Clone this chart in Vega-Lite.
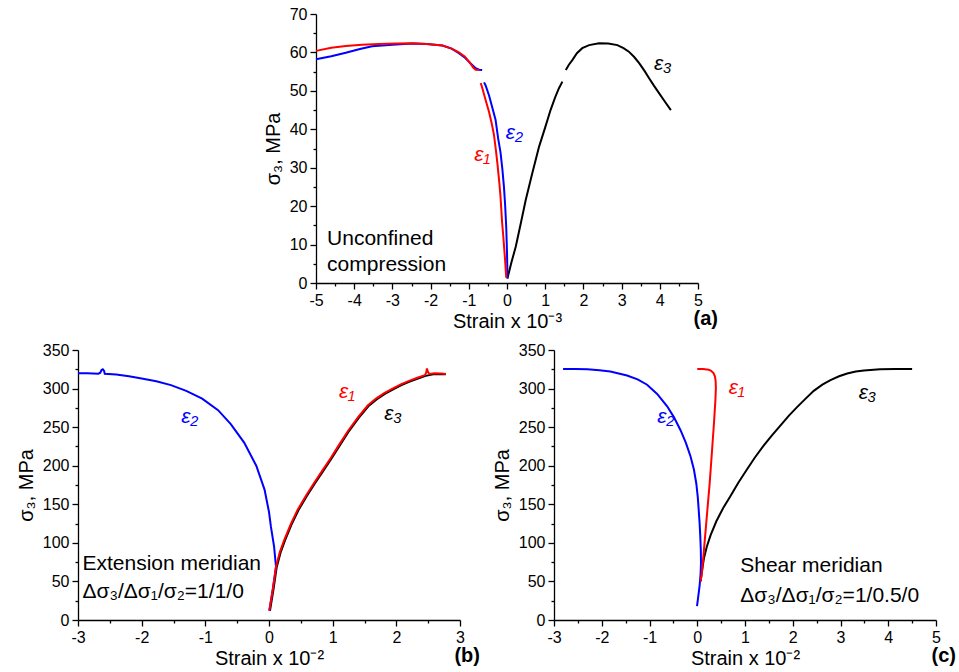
{
  "$schema": "https://vega.github.io/schema/vega-lite/v6.json",
  "background": "white",
  "padding": {"left": 16, "top": 6, "right": 2, "bottom": 2},
  "config": {
    "font": "Liberation Sans",
    "view": {"stroke": null},
    "axis": {
      "grid": false,
      "domainColor": "black",
      "domainWidth": 1.3,
      "tickColor": "black",
      "tickWidth": 1.3,
      "tickSize": 6,
      "labelColor": "black",
      "labelFont": "Liberation Sans",
      "labelFontSize": 16,
      "labelPadding": 3,
      "labelFlush": false,
      "labelOverlap": false,
      "titleColor": "black",
      "titleFont": "Liberation Sans",
      "titleFontSize": 20,
      "titleFontWeight": "normal"
    },
    "axisX": {"titlePadding": 3},
    "axisY": {"titlePadding": 6},
    "title": {"font": "Liberation Sans", "fontSize": 20, "fontWeight": "bold", "color": "black"}
  },
  "datasets": {
    "a_curves": [
      {"s": "e3", "g": "k1", "x": 0.01, "y": 1.2}, {"s": "e3", "g": "k1", "x": 0.12, "y": 5.5}, {"s": "e3", "g": "k1", "x": 0.23, "y": 9.5},
      {"s": "e3", "g": "k1", "x": 0.36, "y": 15.5}, {"s": "e3", "g": "k1", "x": 0.49, "y": 21.6}, {"s": "e3", "g": "k1", "x": 0.66, "y": 28.5},
      {"s": "e3", "g": "k1", "x": 0.84, "y": 35.5}, {"s": "e3", "g": "k1", "x": 1.0, "y": 40.5}, {"s": "e3", "g": "k1", "x": 1.14, "y": 45.0},
      {"s": "e3", "g": "k1", "x": 1.26, "y": 48.3}, {"s": "e3", "g": "k1", "x": 1.36, "y": 50.7}, {"s": "e3", "g": "k1", "x": 1.45, "y": 52.4},
      {"s": "e3", "g": "k2", "x": 1.54, "y": 55.4}, {"s": "e3", "g": "k2", "x": 1.62, "y": 56.8}, {"s": "e3", "g": "k2", "x": 1.71, "y": 58.0},
      {"s": "e3", "g": "k2", "x": 1.83, "y": 59.8}, {"s": "e3", "g": "k2", "x": 1.97, "y": 61.1}, {"s": "e3", "g": "k2", "x": 2.15, "y": 61.9},
      {"s": "e3", "g": "k2", "x": 2.41, "y": 62.4}, {"s": "e3", "g": "k2", "x": 2.65, "y": 62.3}, {"s": "e3", "g": "k2", "x": 2.89, "y": 61.9},
      {"s": "e3", "g": "k2", "x": 3.05, "y": 61.1}, {"s": "e3", "g": "k2", "x": 3.19, "y": 60.2}, {"s": "e3", "g": "k2", "x": 3.33, "y": 58.8},
      {"s": "e3", "g": "k2", "x": 3.46, "y": 57.2}, {"s": "e3", "g": "k2", "x": 3.6, "y": 55.2}, {"s": "e3", "g": "k2", "x": 3.72, "y": 53.3},
      {"s": "e3", "g": "k2", "x": 3.85, "y": 51.3}, {"s": "e3", "g": "k2", "x": 3.98, "y": 49.4}, {"s": "e3", "g": "k2", "x": 4.14, "y": 47.1},
      {"s": "e3", "g": "k2", "x": 4.29, "y": 45.0},
      {"s": "e2", "g": "b1", "x": -5.0, "y": 58.2}, {"s": "e2", "g": "b1", "x": -4.6, "y": 59.0}, {"s": "e2", "g": "b1", "x": -4.22, "y": 59.9},
      {"s": "e2", "g": "b1", "x": -3.85, "y": 60.9}, {"s": "e2", "g": "b1", "x": -3.53, "y": 61.6}, {"s": "e2", "g": "b1", "x": -3.0, "y": 62.0},
      {"s": "e2", "g": "b1", "x": -2.48, "y": 62.3}, {"s": "e2", "g": "b1", "x": -2.1, "y": 62.2}, {"s": "e2", "g": "b1", "x": -1.69, "y": 61.8},
      {"s": "e2", "g": "b1", "x": -1.45, "y": 61.0}, {"s": "e2", "g": "b1", "x": -1.26, "y": 59.8}, {"s": "e2", "g": "b1", "x": -1.1, "y": 58.6},
      {"s": "e2", "g": "b1", "x": -0.95, "y": 57.1}, {"s": "e2", "g": "b1", "x": -0.82, "y": 55.9}, {"s": "e2", "g": "b1", "x": -0.73, "y": 55.5},
      {"s": "e2", "g": "b1", "x": -0.65, "y": 55.4},
      {"s": "e2", "g": "b2", "x": -0.6, "y": 52.2}, {"s": "e2", "g": "b2", "x": -0.56, "y": 51.4}, {"s": "e2", "g": "b2", "x": -0.47, "y": 48.8},
      {"s": "e2", "g": "b2", "x": -0.38, "y": 45.5}, {"s": "e2", "g": "b2", "x": -0.3, "y": 42.5}, {"s": "e2", "g": "b2", "x": -0.23, "y": 37.5},
      {"s": "e2", "g": "b2", "x": -0.17, "y": 34.0}, {"s": "e2", "g": "b2", "x": -0.12, "y": 29.5}, {"s": "e2", "g": "b2", "x": -0.08, "y": 25.0},
      {"s": "e2", "g": "b2", "x": -0.05, "y": 20.5}, {"s": "e2", "g": "b2", "x": -0.02, "y": 14.5}, {"s": "e2", "g": "b2", "x": 0.0, "y": 8.0},
      {"s": "e2", "g": "b2", "x": 0.01, "y": 3.0}, {"s": "e2", "g": "b2", "x": 0.01, "y": 1.2},
      {"s": "e1", "g": "r1", "x": -5.0, "y": 60.4}, {"s": "e1", "g": "r1", "x": -4.6, "y": 61.2}, {"s": "e1", "g": "r1", "x": -4.22, "y": 61.7},
      {"s": "e1", "g": "r1", "x": -3.8, "y": 62.0}, {"s": "e1", "g": "r1", "x": -3.35, "y": 62.2}, {"s": "e1", "g": "r1", "x": -2.9, "y": 62.3},
      {"s": "e1", "g": "r1", "x": -2.48, "y": 62.4}, {"s": "e1", "g": "r1", "x": -2.1, "y": 62.2}, {"s": "e1", "g": "r1", "x": -1.69, "y": 61.8},
      {"s": "e1", "g": "r1", "x": -1.45, "y": 61.0}, {"s": "e1", "g": "r1", "x": -1.26, "y": 60.0}, {"s": "e1", "g": "r1", "x": -1.1, "y": 58.9},
      {"s": "e1", "g": "r1", "x": -0.98, "y": 57.4}, {"s": "e1", "g": "r1", "x": -0.88, "y": 56.0}, {"s": "e1", "g": "r1", "x": -0.82, "y": 55.5},
      {"s": "e1", "g": "r1", "x": -0.73, "y": 55.4},
      {"s": "e1", "g": "r2", "x": -0.69, "y": 52.0}, {"s": "e1", "g": "r2", "x": -0.66, "y": 51.2}, {"s": "e1", "g": "r2", "x": -0.56, "y": 47.6},
      {"s": "e1", "g": "r2", "x": -0.47, "y": 44.5}, {"s": "e1", "g": "r2", "x": -0.4, "y": 41.5}, {"s": "e1", "g": "r2", "x": -0.34, "y": 38.5},
      {"s": "e1", "g": "r2", "x": -0.29, "y": 34.5}, {"s": "e1", "g": "r2", "x": -0.25, "y": 31.0}, {"s": "e1", "g": "r2", "x": -0.2, "y": 26.0},
      {"s": "e1", "g": "r2", "x": -0.17, "y": 22.5}, {"s": "e1", "g": "r2", "x": -0.13, "y": 16.0}, {"s": "e1", "g": "r2", "x": -0.1, "y": 12.5},
      {"s": "e1", "g": "r2", "x": -0.05, "y": 6.0}, {"s": "e1", "g": "r2", "x": -0.02, "y": 1.4}
    ],
    "a_labels": [
      {"x": -0.86, "y": 31.8, "t": "ε₁", "s": "e1"},
      {"x": -0.03, "y": 37.4, "t": "ε₂", "s": "e2"},
      {"x": 3.85, "y": 55.4, "t": "ε₃", "s": "e3"}
    ],
    "a_notes": [
      {"x": -4.71, "y": 9.9, "t": "Unconfined"},
      {"x": -4.71, "y": 3.2, "t": "compression"}
    ],
    "b_curves": [
      {"s": "e3", "g": "k", "x": 0.015, "y": 12}, {"s": "e3", "g": "k", "x": 0.07, "y": 39.5}, {"s": "e3", "g": "k", "x": 0.12, "y": 68},
      {"s": "e3", "g": "k", "x": 0.18, "y": 87}, {"s": "e3", "g": "k", "x": 0.25, "y": 103}, {"s": "e3", "g": "k", "x": 0.35, "y": 123},
      {"s": "e3", "g": "k", "x": 0.46, "y": 142}, {"s": "e3", "g": "k", "x": 0.59, "y": 160}, {"s": "e3", "g": "k", "x": 0.72, "y": 177},
      {"s": "e3", "g": "k", "x": 0.85, "y": 193}, {"s": "e3", "g": "k", "x": 0.98, "y": 209}, {"s": "e3", "g": "k", "x": 1.11, "y": 226},
      {"s": "e3", "g": "k", "x": 1.25, "y": 244}, {"s": "e3", "g": "k", "x": 1.41, "y": 262}, {"s": "e3", "g": "k", "x": 1.56, "y": 277},
      {"s": "e3", "g": "k", "x": 1.69, "y": 286}, {"s": "e3", "g": "k", "x": 1.82, "y": 293}, {"s": "e3", "g": "k", "x": 1.95, "y": 299},
      {"s": "e3", "g": "k", "x": 2.08, "y": 304.5}, {"s": "e3", "g": "k", "x": 2.21, "y": 309}, {"s": "e3", "g": "k", "x": 2.34, "y": 313},
      {"s": "e3", "g": "k", "x": 2.46, "y": 316.5}, {"s": "e3", "g": "k", "x": 2.6, "y": 319}, {"s": "e3", "g": "k", "x": 2.78, "y": 318.5},
      {"s": "e2", "g": "b", "x": -3.0, "y": 319.8}, {"s": "e2", "g": "b", "x": -2.85, "y": 319.7}, {"s": "e2", "g": "b", "x": -2.68, "y": 319.3},
      {"s": "e2", "g": "b", "x": -2.65, "y": 320.5}, {"s": "e2", "g": "b", "x": -2.63, "y": 324}, {"s": "e2", "g": "b", "x": -2.61, "y": 325},
      {"s": "e2", "g": "b", "x": -2.59, "y": 323}, {"s": "e2", "g": "b", "x": -2.58, "y": 319.3}, {"s": "e2", "g": "b", "x": -2.4, "y": 318.2},
      {"s": "e2", "g": "b", "x": -2.2, "y": 316}, {"s": "e2", "g": "b", "x": -2.0, "y": 313}, {"s": "e2", "g": "b", "x": -1.77, "y": 309.5},
      {"s": "e2", "g": "b", "x": -1.54, "y": 304.5}, {"s": "e2", "g": "b", "x": -1.3, "y": 297}, {"s": "e2", "g": "b", "x": -1.05, "y": 287},
      {"s": "e2", "g": "b", "x": -0.8, "y": 272}, {"s": "e2", "g": "b", "x": -0.6, "y": 254}, {"s": "e2", "g": "b", "x": -0.39, "y": 230},
      {"s": "e2", "g": "b", "x": -0.2, "y": 200}, {"s": "e2", "g": "b", "x": -0.07, "y": 169}, {"s": "e2", "g": "b", "x": 0.0, "y": 140},
      {"s": "e2", "g": "b", "x": 0.03, "y": 121}, {"s": "e2", "g": "b", "x": 0.08, "y": 95}, {"s": "e2", "g": "b", "x": 0.11, "y": 69},
      {"s": "e2", "g": "b", "x": 0.06, "y": 40}, {"s": "e2", "g": "b", "x": 0.005, "y": 12},
      {"s": "e1", "g": "r", "x": 0.005, "y": 12}, {"s": "e1", "g": "r", "x": 0.06, "y": 40}, {"s": "e1", "g": "r", "x": 0.11, "y": 69},
      {"s": "e1", "g": "r", "x": 0.17, "y": 88}, {"s": "e1", "g": "r", "x": 0.24, "y": 104}, {"s": "e1", "g": "r", "x": 0.34, "y": 124},
      {"s": "e1", "g": "r", "x": 0.45, "y": 143}, {"s": "e1", "g": "r", "x": 0.58, "y": 161}, {"s": "e1", "g": "r", "x": 0.71, "y": 178},
      {"s": "e1", "g": "r", "x": 0.84, "y": 194}, {"s": "e1", "g": "r", "x": 0.97, "y": 210}, {"s": "e1", "g": "r", "x": 1.1, "y": 227},
      {"s": "e1", "g": "r", "x": 1.24, "y": 245}, {"s": "e1", "g": "r", "x": 1.4, "y": 263}, {"s": "e1", "g": "r", "x": 1.55, "y": 278},
      {"s": "e1", "g": "r", "x": 1.68, "y": 287}, {"s": "e1", "g": "r", "x": 1.81, "y": 294}, {"s": "e1", "g": "r", "x": 1.94, "y": 300},
      {"s": "e1", "g": "r", "x": 2.07, "y": 305.5}, {"s": "e1", "g": "r", "x": 2.2, "y": 310}, {"s": "e1", "g": "r", "x": 2.33, "y": 314},
      {"s": "e1", "g": "r", "x": 2.45, "y": 317.5}, {"s": "e1", "g": "r", "x": 2.47, "y": 321}, {"s": "e1", "g": "r", "x": 2.48, "y": 326},
      {"s": "e1", "g": "r", "x": 2.5, "y": 321}, {"s": "e1", "g": "r", "x": 2.52, "y": 319}, {"s": "e1", "g": "r", "x": 2.6, "y": 320},
      {"s": "e1", "g": "r", "x": 2.7, "y": 319.5}, {"s": "e1", "g": "r", "x": 2.78, "y": 319}
    ],
    "b_labels": [
      {"x": -1.38, "y": 256, "t": "ε₂", "s": "e2"},
      {"x": 1.1, "y": 288, "t": "ε₁", "s": "e1"},
      {"x": 1.81, "y": 259, "t": "ε₃", "s": "e3"}
    ],
    "b_notes": [
      {"x": -2.93, "y": 65, "t": "Extension meridian"},
      {"x": -2.93, "y": 28, "t": "Δσ₃/Δσ₁/σ₂=1/1/0"}
    ],
    "c_curves": [
      {"s": "e3", "g": "k", "x": 0.07, "y": 50}, {"s": "e3", "g": "k", "x": 0.1, "y": 64}, {"s": "e3", "g": "k", "x": 0.14, "y": 80},
      {"s": "e3", "g": "k", "x": 0.2, "y": 95}, {"s": "e3", "g": "k", "x": 0.28, "y": 110}, {"s": "e3", "g": "k", "x": 0.4, "y": 128},
      {"s": "e3", "g": "k", "x": 0.55, "y": 146}, {"s": "e3", "g": "k", "x": 0.69, "y": 160}, {"s": "e3", "g": "k", "x": 0.86, "y": 178},
      {"s": "e3", "g": "k", "x": 1.04, "y": 195}, {"s": "e3", "g": "k", "x": 1.2, "y": 210}, {"s": "e3", "g": "k", "x": 1.39, "y": 226},
      {"s": "e3", "g": "k", "x": 1.56, "y": 239}, {"s": "e3", "g": "k", "x": 1.74, "y": 252}, {"s": "e3", "g": "k", "x": 1.92, "y": 265},
      {"s": "e3", "g": "k", "x": 2.09, "y": 276}, {"s": "e3", "g": "k", "x": 2.27, "y": 287}, {"s": "e3", "g": "k", "x": 2.44, "y": 297},
      {"s": "e3", "g": "k", "x": 2.62, "y": 305}, {"s": "e3", "g": "k", "x": 2.79, "y": 311}, {"s": "e3", "g": "k", "x": 2.97, "y": 316},
      {"s": "e3", "g": "k", "x": 3.14, "y": 319.5}, {"s": "e3", "g": "k", "x": 3.32, "y": 322}, {"s": "e3", "g": "k", "x": 3.49, "y": 323.5},
      {"s": "e3", "g": "k", "x": 3.83, "y": 325}, {"s": "e3", "g": "k", "x": 4.15, "y": 325.4}, {"s": "e3", "g": "k", "x": 4.5, "y": 325.4},
      {"s": "e2", "g": "b", "x": -2.81, "y": 325.4}, {"s": "e2", "g": "b", "x": -2.55, "y": 325.4}, {"s": "e2", "g": "b", "x": -2.3, "y": 325},
      {"s": "e2", "g": "b", "x": -2.05, "y": 323.8}, {"s": "e2", "g": "b", "x": -1.82, "y": 322}, {"s": "e2", "g": "b", "x": -1.47, "y": 317},
      {"s": "e2", "g": "b", "x": -1.25, "y": 312}, {"s": "e2", "g": "b", "x": -1.05, "y": 305}, {"s": "e2", "g": "b", "x": -0.84, "y": 293},
      {"s": "e2", "g": "b", "x": -0.63, "y": 277}, {"s": "e2", "g": "b", "x": -0.49, "y": 263}, {"s": "e2", "g": "b", "x": -0.35, "y": 246},
      {"s": "e2", "g": "b", "x": -0.24, "y": 230}, {"s": "e2", "g": "b", "x": -0.14, "y": 212}, {"s": "e2", "g": "b", "x": -0.07, "y": 195},
      {"s": "e2", "g": "b", "x": -0.02, "y": 177}, {"s": "e2", "g": "b", "x": 0.01, "y": 160}, {"s": "e2", "g": "b", "x": 0.03, "y": 143},
      {"s": "e2", "g": "b", "x": 0.05, "y": 125}, {"s": "e2", "g": "b", "x": 0.064, "y": 108}, {"s": "e2", "g": "b", "x": 0.075, "y": 90},
      {"s": "e2", "g": "b", "x": 0.078, "y": 74}, {"s": "e2", "g": "b", "x": 0.07, "y": 60}, {"s": "e2", "g": "b", "x": 0.05, "y": 45},
      {"s": "e2", "g": "b", "x": 0.02, "y": 30}, {"s": "e2", "g": "b", "x": -0.005, "y": 18},
      {"s": "e1", "g": "r", "x": 0.07, "y": 50}, {"s": "e1", "g": "r", "x": 0.1, "y": 62}, {"s": "e1", "g": "r", "x": 0.15, "y": 98},
      {"s": "e1", "g": "r", "x": 0.2, "y": 134}, {"s": "e1", "g": "r", "x": 0.26, "y": 177}, {"s": "e1", "g": "r", "x": 0.31, "y": 220},
      {"s": "e1", "g": "r", "x": 0.35, "y": 255}, {"s": "e1", "g": "r", "x": 0.38, "y": 285}, {"s": "e1", "g": "r", "x": 0.39, "y": 300},
      {"s": "e1", "g": "r", "x": 0.385, "y": 310}, {"s": "e1", "g": "r", "x": 0.37, "y": 316}, {"s": "e1", "g": "r", "x": 0.34, "y": 320},
      {"s": "e1", "g": "r", "x": 0.29, "y": 323}, {"s": "e1", "g": "r", "x": 0.24, "y": 324.5}, {"s": "e1", "g": "r", "x": 0.12, "y": 325.3},
      {"s": "e1", "g": "r", "x": 0.0, "y": 325.4}
    ],
    "c_labels": [
      {"x": -0.84, "y": 256, "t": "ε₂", "s": "e2"},
      {"x": 0.66, "y": 292.6, "t": "ε₁", "s": "e1"},
      {"x": 3.38, "y": 287, "t": "ε₃", "s": "e3"}
    ],
    "c_notes": [
      {"x": 0.9, "y": 62, "t": "Shear meridian"},
      {"x": 0.9, "y": 23, "t": "Δσ₃/Δσ₁/σ₂=1/0.5/0"}
    ]
  },
  "center": true,
  "spacing": 11,
  "vconcat": [
    {
      "width": 382,
      "height": 269,
      "title": {"text": "(a)", "orient": "bottom", "anchor": "end", "frame": "group", "offset": -22, "dx": 20},
      "resolve": {"axis": {"x": "independent", "y": "independent"}},
      "layer": [
        {
          "data": {"name": "a_curves"},
          "mark": {"type": "line", "strokeWidth": 2},
          "encoding": {
            "x": {"field": "x", "type": "quantitative", "scale": {"domain": [-5, 5], "nice": false, "zero": false},
                  "axis": {"orient": "bottom", "values": [-5, -4, -3, -2, -1, 0, 1, 2, 3, 4, 5], "labelExpr": "'' + datum.value", "title": "Strain x 10⁻³"}},
            "y": {"field": "y", "type": "quantitative", "scale": {"domain": [0, 70], "nice": false},
                  "axis": {"orient": "left", "values": [0, 10, 20, 30, 40, 50, 60, 70], "title": "σ₃, MPa"}},
            "color": {"field": "s", "type": "nominal", "scale": {"domain": ["e1", "e2", "e3"], "range": ["#ff0000", "#0000ff", "#000000"]}, "legend": null},
            "detail": {"field": "g"},
            "order": {"value": null}
          }
        },
        {
          "data": {"name": "a_labels"},
          "mark": {"type": "text", "align": "left", "baseline": "alphabetic", "fontSize": 21, "fontStyle": "italic"},
          "encoding": {
            "x": {"field": "x", "type": "quantitative", "scale": {"domain": [-5, 5], "nice": false, "zero": false},
                  "axis": {"orient": "bottom", "values": [-4.5, -3.5, -2.5, -1.5, -0.5, 0.5, 1.5, 2.5, 3.5, 4.5], "labels": false, "domain": false, "tickSize": 3, "title": null}},
            "y": {"field": "y", "type": "quantitative", "scale": {"domain": [0, 70], "nice": false},
                  "axis": {"orient": "left", "values": [5, 15, 25, 35, 45, 55, 65], "labels": false, "domain": false, "tickSize": 3, "title": null}},
            "text": {"field": "t"},
            "color": {"field": "s", "type": "nominal", "legend": null}
          }
        },
        {
          "data": {"name": "a_notes"},
          "mark": {"type": "text", "align": "left", "baseline": "alphabetic", "fontSize": 21, "color": "black"},
          "encoding": {
            "x": {"field": "x", "type": "quantitative", "scale": {"domain": [-5, 5], "nice": false, "zero": false}, "axis": null},
            "y": {"field": "y", "type": "quantitative", "scale": {"domain": [0, 70], "nice": false}, "axis": null},
            "text": {"field": "t"}
          }
        }
      ]
    },
    {
      "spacing": 12,
      "hconcat": [
        {
          "width": 382,
          "height": 270,
          "title": {"text": "(b)", "orient": "bottom", "anchor": "end", "frame": "group", "offset": -22, "dx": 20},
          "resolve": {"axis": {"x": "independent", "y": "independent"}},
          "layer": [
            {
              "data": {"name": "b_curves"},
              "mark": {"type": "line", "strokeWidth": 2},
              "encoding": {
                "x": {"field": "x", "type": "quantitative", "scale": {"domain": [-3, 3], "nice": false, "zero": false},
                      "axis": {"orient": "bottom", "values": [-3, -2, -1, 0, 1, 2, 3], "labelExpr": "'' + datum.value", "title": "Strain x 10⁻²"}},
                "y": {"field": "y", "type": "quantitative", "scale": {"domain": [0, 350], "nice": false},
                      "axis": {"orient": "left", "values": [0, 50, 100, 150, 200, 250, 300, 350], "title": "σ₃, MPa"}},
                "color": {"field": "s", "type": "nominal", "legend": null},
                "detail": {"field": "g"},
                "order": {"value": null}
              }
            },
            {
              "data": {"name": "b_labels"},
              "mark": {"type": "text", "align": "left", "baseline": "alphabetic", "fontSize": 21, "fontStyle": "italic"},
              "encoding": {
                "x": {"field": "x", "type": "quantitative", "scale": {"domain": [-3, 3], "nice": false, "zero": false},
                      "axis": {"orient": "bottom", "values": [-2.5, -1.5, -0.5, 0.5, 1.5, 2.5], "labels": false, "domain": false, "tickSize": 3, "title": null}},
                "y": {"field": "y", "type": "quantitative", "scale": {"domain": [0, 350], "nice": false},
                      "axis": {"orient": "left", "values": [25, 75, 125, 175, 225, 275, 325], "labels": false, "domain": false, "tickSize": 3, "title": null}},
                "text": {"field": "t"},
                "color": {"field": "s", "type": "nominal", "legend": null}
              }
            },
            {
              "data": {"name": "b_notes"},
              "mark": {"type": "text", "align": "left", "baseline": "alphabetic", "fontSize": 21, "color": "black"},
              "encoding": {
                "x": {"field": "x", "type": "quantitative", "scale": {"domain": [-3, 3], "nice": false, "zero": false}, "axis": null},
                "y": {"field": "y", "type": "quantitative", "scale": {"domain": [0, 350], "nice": false}, "axis": null},
                "text": {"field": "t"}
              }
            }
          ]
        },
        {
          "width": 382,
          "height": 270,
          "title": {"text": "(c)", "orient": "bottom", "anchor": "end", "frame": "group", "offset": -22, "dx": 20},
          "resolve": {"axis": {"x": "independent", "y": "independent"}},
          "layer": [
            {
              "data": {"name": "c_curves"},
              "mark": {"type": "line", "strokeWidth": 2},
              "encoding": {
                "x": {"field": "x", "type": "quantitative", "scale": {"domain": [-3, 5], "nice": false, "zero": false},
                      "axis": {"orient": "bottom", "values": [-3, -2, -1, 0, 1, 2, 3, 4, 5], "labelExpr": "'' + datum.value", "title": "Strain x 10⁻²"}},
                "y": {"field": "y", "type": "quantitative", "scale": {"domain": [0, 350], "nice": false},
                      "axis": {"orient": "left", "values": [0, 50, 100, 150, 200, 250, 300, 350], "title": "σ₃, MPa"}},
                "color": {"field": "s", "type": "nominal", "legend": null},
                "detail": {"field": "g"},
                "order": {"value": null}
              }
            },
            {
              "data": {"name": "c_labels"},
              "mark": {"type": "text", "align": "left", "baseline": "alphabetic", "fontSize": 21, "fontStyle": "italic"},
              "encoding": {
                "x": {"field": "x", "type": "quantitative", "scale": {"domain": [-3, 5], "nice": false, "zero": false},
                      "axis": {"orient": "bottom", "values": [-2.5, -1.5, -0.5, 0.5, 1.5, 2.5, 3.5, 4.5], "labels": false, "domain": false, "tickSize": 3, "title": null}},
                "y": {"field": "y", "type": "quantitative", "scale": {"domain": [0, 350], "nice": false},
                      "axis": {"orient": "left", "values": [25, 75, 125, 175, 225, 275, 325], "labels": false, "domain": false, "tickSize": 3, "title": null}},
                "text": {"field": "t"},
                "color": {"field": "s", "type": "nominal", "legend": null}
              }
            },
            {
              "data": {"name": "c_notes"},
              "mark": {"type": "text", "align": "left", "baseline": "alphabetic", "fontSize": 21, "color": "black"},
              "encoding": {
                "x": {"field": "x", "type": "quantitative", "scale": {"domain": [-3, 5], "nice": false, "zero": false}, "axis": null},
                "y": {"field": "y", "type": "quantitative", "scale": {"domain": [0, 350], "nice": false}, "axis": null},
                "text": {"field": "t"}
              }
            }
          ]
        }
      ]
    }
  ]
}
